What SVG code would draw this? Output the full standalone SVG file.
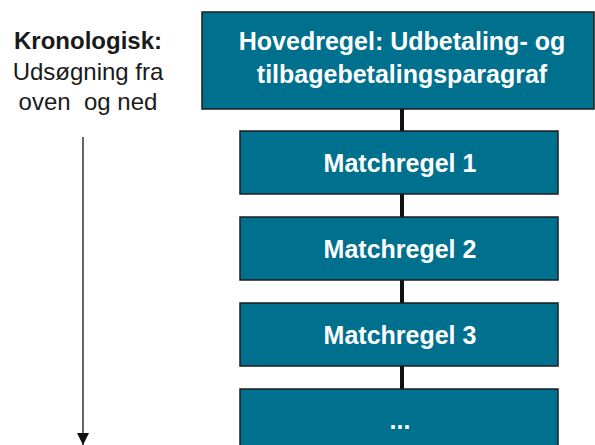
<svg xmlns="http://www.w3.org/2000/svg" width="595" height="445" viewBox="0 0 595 445">
  <style>
    .box { fill: #00708F; stroke: #1c1c1c; stroke-width: 1.5; }
    .lbl { fill: #ffffff; font-family: "Liberation Sans", Arial, sans-serif; font-weight: bold; font-size: 25px; text-anchor: middle; }
    .side { fill: #1a1a1a; font-family: "Liberation Sans", Arial, sans-serif; font-size: 24px; text-anchor: middle; }
    .link { stroke: #111111; stroke-width: 4; }
  </style>
  <defs>
    <marker id="head" markerWidth="12" markerHeight="13" refX="12" refY="6" orient="auto" markerUnits="userSpaceOnUse" viewBox="0 0 12 12">
      <path d="M0,0 L12,6 L0,12 Z" fill="#111111"/>
    </marker>
  </defs>

  <!-- time-order note on the left -->
  <g id="note">
    <text class="side" x="88" y="49" font-weight="bold" font-size="23.5">Kronologisk:</text>
    <text class="side" x="88" y="80">Udsøgning fra</text>
    <text class="side" x="88" y="110" xml:space="preserve">oven  og ned</text>
    <line x1="83" y1="137" x2="83" y2="445" stroke="#333333" stroke-width="1.5" marker-end="url(#head)"/>
  </g>

  <!-- connectors between rule boxes -->
  <g id="connectors">
    <line class="link" x1="402" y1="109" x2="402" y2="131"/>
    <line class="link" x1="402" y1="194" x2="402" y2="217"/>
    <line class="link" x1="402" y1="280" x2="402" y2="303"/>
    <line class="link" x1="402" y1="366" x2="402" y2="389"/>
  </g>

  <g id="hovedregel">
    <rect class="box" x="202" y="12" width="392" height="97"/>
    <text class="lbl" x="402" y="50">Hovedregel: Udbetaling- og</text>
    <text class="lbl" x="402" y="83">tilbagebetalingsparagraf</text>
  </g>
  <g id="match1">
    <rect class="box" x="240" y="131" width="318" height="63"/>
    <text class="lbl" x="400" y="172">Matchregel 1</text>
  </g>
  <g id="match2">
    <rect class="box" x="240" y="217" width="318" height="63"/>
    <text class="lbl" x="400" y="258">Matchregel 2</text>
  </g>
  <g id="match3">
    <rect class="box" x="240" y="303" width="318" height="63"/>
    <text class="lbl" x="400" y="344">Matchregel 3</text>
  </g>
  <g id="more">
    <rect class="box" x="240" y="389" width="318" height="70"/>
    <text class="lbl" x="400" y="429">...</text>
  </g>
</svg>
